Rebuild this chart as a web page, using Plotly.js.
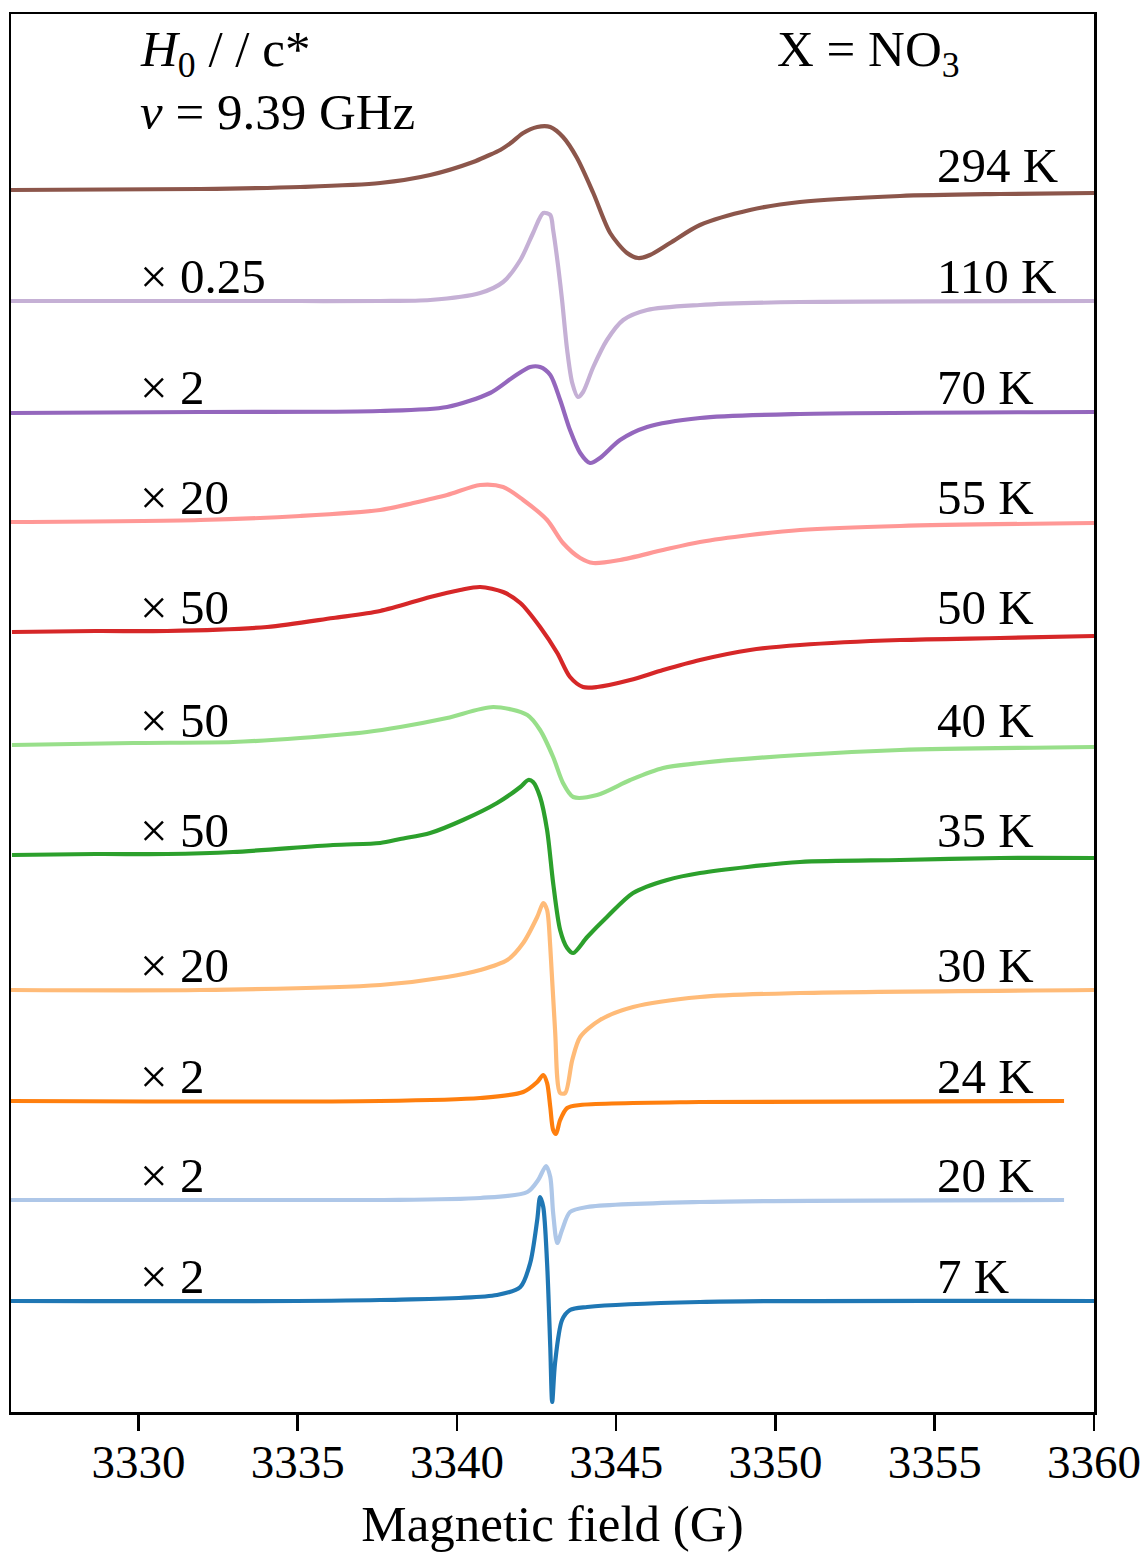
<!DOCTYPE html>
<html>
<head>
<meta charset="utf-8">
<script src="https://cdn.plot.ly/plotly-3.0.1.min.js"></script>
<style>html,body{margin:0;padding:0;background:#fff;}#chart{width:1146px;height:1554px;}</style>
</head>
<body>
<div id="chart"></div>
<script>
// Temperatures, labels, colours and vertical offsets (arbitrary units)
const temps = ['294 K','110 K','70 K','55 K','50 K','40 K','35 K','30 K','24 K','20 K','7 K'];
const scales = ['', '× 0.25', '× 2', '× 20', '× 50', '× 50', '× 50', '× 20', '× 2', '× 2', '× 2'];
const offsets = [1222, 1111, 1000, 890, 780, 667, 557, 422, 311, 212, 111];
const colors = ['#8c564b','#c5b0d5','#9467bd','#ff9896','#d62728','#98df8a','#2ca02c','#ffbb78','#ff7f0e','#aec7e8','#1f77b4'];

// Field (G) and derivative signal (arb. units) for each spectrum
const field294 = [3326.0,3331.94,3335.08,3337.59,3339.16,3340.51,3340.95,3341.36,3341.73,3342.08,3342.52,3342.93,3343.33,3343.77,3344.28,3344.81,3345.34,3345.69,3346.06,3346.69,3347.63,3349.20,3350.77,3353.91,3357.05,3360.0];
const sig294   = [0,1,3,7,15,28,34,40,48,57,63,63,53,32,-3,-43,-63,-68,-65,-53,-35,-20,-12,-6,-4,-3];

const field110 = [3326.0,3335.08,3337.59,3339.16,3340.73,3341.45,3341.99,3342.39,3342.71,3342.93,3343.02,3343.18,3343.30,3343.46,3343.62,3343.80,3343.96,3344.28,3344.71,3345.22,3345.97,3347.63,3350.77,3360.0];
const sig110   = [0,0,0,1,8,19,41,68,88,86,71,34,1,-49,-82,-96,-91,-66,-39,-19,-9,-4,-1,0];

const field70 = [3326.0,3331.94,3337.59,3339.69,3341.04,3341.77,3342.30,3342.61,3342.93,3343.24,3343.55,3343.87,3344.18,3344.49,3345.12,3345.97,3347.63,3350.77,3360.0];
const sig70   = [-1,0,1,5,19,35,45,45,37,12,-18,-41,-51,-46,-28,-15,-6,-2,0];

const field55 = [3326.0,3331.94,3335.08,3337.59,3338.63,3339.69,3340.73,3341.45,3342.08,3342.83,3343.33,3343.87,3344.28,3345.12,3346.47,3347.63,3349.20,3350.77,3353.91,3360.0];
const sig55   = [0,2,6,12,19,27,37,35,22,2,-21,-36,-41,-38,-28,-20,-13,-8,-4,-1];

const field50 = [3326.03,3328.66,3330.90,3334.04,3336.11,3337.59,3339.16,3340.10,3340.73,3341.45,3341.99,3342.61,3343.15,3343.55,3343.96,3344.40,3345.44,3346.47,3347.63,3349.20,3350.77,3353.91,3357.05,3360.0];
const sig50   = [0,1,1,5,14,21,35,42,45,40,29,5,-21,-45,-55,-55,-48,-38,-28,-18,-13,-8,-6,-4];

const field40 = [3326.03,3329.84,3332.97,3335.08,3337.18,3338.22,3339.69,3341.14,3342.21,3342.61,3343.02,3343.33,3343.65,3344.40,3345.44,3346.47,3347.63,3350.77,3353.91,3360.0];
const sig40   = [0,2,3,7,13,18,27,38,30,15,-12,-38,-52,-50,-35,-23,-18,-10,-5,-2];

const field35 = [3326.03,3328.66,3330.90,3332.97,3336.11,3337.59,3338.22,3339.16,3340.19,3341.26,3341.99,3342.24,3342.39,3342.61,3342.83,3343.02,3343.24,3343.46,3343.65,3344.09,3344.71,3345.53,3346.60,3347.63,3350.77,3353.91,3357.05,3360.0];
const sig35   = [0,1,1,3,10,12,16,22,35,52,68,75,73,58,25,-28,-75,-93,-98,-82,-62,-38,-25,-18,-7,-5,-3,-3];

const field30 = [3326.0,3331.94,3337.59,3339.69,3340.73,3341.58,3342.08,3342.52,3342.71,3342.83,3342.93,3343.08,3343.24,3343.40,3343.62,3343.87,3344.49,3345.53,3347.63,3350.77,3360.0];
const sig30   = [0,0,5,13,20,30,47,73,87,80,43,-40,-103,-103,-70,-47,-30,-17,-7,-3,0];

const field24 = [3326.0,3337.59,3340.73,3342.08,3342.52,3342.71,3342.83,3342.93,3343.02,3343.11,3343.24,3343.46,3343.87,3347.63,3359.06];
const sig24   = [0,0,3,9,19,26,18,-6,-29,-33,-19,-7,-4,-1,0];

const field20 = [3326.0,3337.59,3340.73,3342.21,3342.55,3342.80,3342.93,3343.02,3343.15,3343.30,3343.55,3344.09,3347.63,3359.06];
const sig20   = [0,0,2,8,20,34,23,-13,-43,-30,-12,-7,-2,0];

const field7 = [3326.0,3337.59,3341.26,3341.99,3342.30,3342.52,3342.61,3342.71,3342.83,3342.93,3342.99,3343.08,3343.30,3343.55,3344.09,3347.63,3360.0];
const sig7   = [0,1,6,14,38,81,104,94,38,-46,-101,-62,-19,-9,-6,-1,0];

const fields = [field294,field110,field70,field55,field50,field40,field35,field30,field24,field20,field7];
const signals = [sig294,sig110,sig70,sig55,sig50,sig40,sig35,sig30,sig24,sig20,sig7];

const xTicks = [3330,3335,3340,3345,3350,3355,3360];

const FONT = 'Liberation Serif, Times New Roman, serif';
const FS = 47;   // tick labels
const LS = 49;   // curve labels
const TS = 51;   // corner texts

const traces = temps.map((t,i) => ({
  type: 'scatter', mode: 'lines', name: t,
  x: fields[i],
  y: signals[i].map(v => v + offsets[i]),
  line: {color: colors[i], width: 4.2, shape: 'spline', smoothing: 0.8},
  hoverinfo: 'skip'
}));

const annotations = [];
temps.forEach((t,i) => {
  annotations.push({x: 3355, y: offsets[i] + 25, xref: 'x', yref: 'y', text: t, showarrow: false,
    xanchor: 'left', yanchor: 'middle', font: {family: FONT, size: LS, color: '#000'}});
  if (scales[i]) annotations.push({x: 3330, y: offsets[i] + 25, xref: 'x', yref: 'y', text: scales[i], showarrow: false,
    xanchor: 'left', yanchor: 'middle', font: {family: FONT, size: LS, color: '#000'}});
});
annotations.push({x: 3330, y: 1359, xref: 'x', yref: 'y', text: '<i>H</i><sub>0</sub> / / c*', showarrow: false,
  xanchor: 'left', yanchor: 'middle', font: {family: FONT, size: TS, color: '#000'}});
annotations.push({x: 3330, y: 1300, xref: 'x', yref: 'y', text: '<i>ν</i> = 9.39 GHz', showarrow: false,
  xanchor: 'left', yanchor: 'middle', font: {family: FONT, size: TS, color: '#000'}});
annotations.push({x: 3350, y: 1359, xref: 'x', yref: 'y', text: 'X = NO<sub>3</sub>', showarrow: false,
  xanchor: 'left', yanchor: 'middle', font: {family: FONT, size: TS, color: '#000'}});

const layout = {
  width: 1146, height: 1554,
  margin: {l: 11, r: 52, t: 14, b: 142},
  paper_bgcolor: '#fff', plot_bgcolor: '#fff',
  showlegend: false,
  font: {family: FONT, size: FS, color: '#000'},
  xaxis: {
    range: [3326, 3360], tickvals: xTicks, ticktext: xTicks.map(String),
    ticks: 'outside', ticklen: 16, tickwidth: 2.5, tickcolor: '#000',
    ticklabelstandoff: -9,
    showline: true, mirror: true, linewidth: 2.5, linecolor: '#000',
    showgrid: false, zeroline: false,
    tickfont: {family: FONT, size: FS, color: '#000'},
    title: {text: 'Magnetic field (G)', font: {family: FONT, size: 51, color: '#000'}, standoff: 19}
  },
  yaxis: {
    range: [0, 1398], showticklabels: false, ticks: '',
    showline: true, mirror: true, linewidth: 2.5, linecolor: '#000',
    showgrid: false, zeroline: false
  },
  annotations: annotations
};

Plotly.newPlot('chart', traces, layout, {displayModeBar: false, staticPlot: true});
</script>
</body>
</html>
